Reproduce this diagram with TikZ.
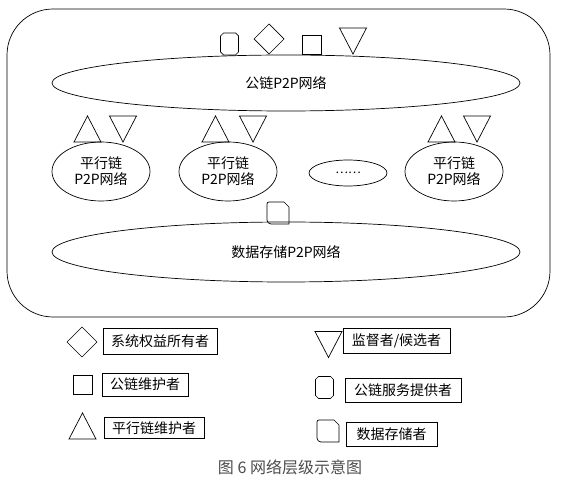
\documentclass[tikz,border=0pt]{standalone}
\usepackage{fontspec}
\setmainfont{Noto Sans CJK SC}
\usetikzlibrary{shapes.geometric}
\begin{document}
\begin{tikzpicture}[x=1pt,y=-1pt,
  shp/.style={draw=black,line width=0.7pt,line join=miter},
  net/.style={ellipse,draw=black,line width=0.7pt,inner sep=0pt,font=\fontsize{14}{16}\selectfont,align=center},
  legbox/.style={draw=black,line width=0.7pt,inner sep=0pt,font=\fontsize{14}{16}\selectfont},
  triup/.pic={\draw[shp] (-13.5,13) -- (0,-13) -- (13.5,13) -- cycle;},
  tridown/.pic={\draw[shp] (-13.5,-13) -- (13.5,-13) -- (0,13) -- cycle;},
  diam/.pic={\draw[shp] (-15,0) -- (0,-15) -- (15,0) -- (0,15) -- cycle;},
  sq/.pic={\draw[shp] (-9.5,-9.5) rectangle (9.5,9.5);},
  octa/.pic={\draw[shp] (-6,-11) -- (6,-11) -- (9,-8) -- (9,8) -- (6,11) -- (-6,11) -- (-9,8) -- (-9,-8) -- cycle;},
  stor/.pic={\draw[shp] (-9,-11) -- (6,-11) -- (11,-6) -- (11,11) -- (-7,11) to[out=180,in=270] (-11,7) -- (-11,-9) to[out=90,in=180] cycle;}
]
\useasboundingbox (0,0) rectangle (579,486);
% outer frame
\draw[line width=0.7pt,rounded corners=46pt] (7,9) rectangle (550,317);
% networks
\node[net,minimum width=468pt,minimum height=56pt] (pub) at (286,83) {公链P2P网络};
\node[net,minimum width=468pt,minimum height=60pt] (store) at (286,252) {数据存储P2P网络};
\node[net,minimum width=98pt,minimum height=59pt] (par1) at (101,171.5) {平行链\\P2P网络};
\node[net,minimum width=98pt,minimum height=59pt] (par2) at (228,171.5) {平行链\\P2P网络};
\node[net,minimum width=98pt,minimum height=59pt] (par3) at (454,171.5) {平行链\\P2P网络};
\node[net,minimum width=78pt,minimum height=26pt,font=\fontsize{12}{14}\selectfont] (dots) at (348,173) {……};
% top role symbols
\pic at (229.5,44) {octa};
\pic at (269,39) {diam};
\pic at (311.5,44.5) {sq};
\pic at (353,41) {tridown};
% parallel chain symbols
\pic at (87.5,129) {triup};
\pic at (123,129) {tridown};
\pic at (215.5,129) {triup};
\pic at (253,129) {tridown};
\pic at (441.5,129) {triup};
\pic at (477,129) {tridown};
% storage symbol
\pic at (278,213) {stor};
% legend
\pic at (82,342) {diam};
\node[legbox,minimum width=114pt,minimum height=26pt] (l1) at (160,341) {系统权益所有者};
\pic at (82.5,384.5) {sq};
\node[legbox,minimum width=86pt,minimum height=23pt] (l2) at (145,384.5) {公链维护者};
\pic at (82.5,426) {triup};
\node[legbox,minimum width=100pt,minimum height=21pt] (l3) at (154,428) {平行链维护者};
\pic at (328.5,344.5) {tridown};
\node[legbox,minimum width=107pt,minimum height=25pt] (l4) at (396.5,340.5) {监督者/候选者};
\pic at (324.5,387.5) {octa};
\node[legbox,minimum width=116pt,minimum height=24pt] (l5) at (403,390) {公链服务提供者};
\pic at (328,431) {stor};
\node[legbox,minimum width=91pt,minimum height=24pt] (l6) at (391.5,434) {数据存储者};
% caption
\node[text=black!70,font=\fontsize{16}{18}\selectfont] (cap) at (290,467.5) {图 6 网络层级示意图};
\end{tikzpicture}
\end{document}
